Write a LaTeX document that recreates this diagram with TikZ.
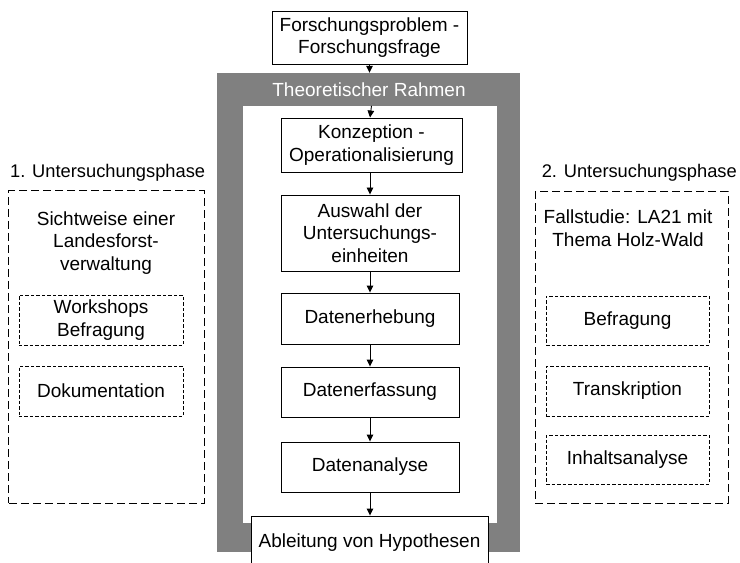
\documentclass[tikz,border=0pt]{standalone}
\usepackage{fontspec}
\setmainfont{Liberation Sans}
\usetikzlibrary{arrows.meta}
\begin{document}
\begin{tikzpicture}[x=1bp,y=-1bp,
  every node/.style={font=\fontsize{19bp}{22.5bp}\selectfont, inner sep=0pt, align=center},
  phasetitle/.style={font=\fontsize{18.3bp}{22bp}\selectfont},
  stepbox/.style={draw=black, line width=0.9bp, fill=white, minimum width=178bp, minimum height=50bp},
  phasebox/.style={draw=black, line width=1bp, dash pattern=on 8bp off 4bp},
  methodbox/.style={draw=black, line width=0.8bp, dash pattern=on 3.5bp off 2bp, minimum width=164bp, minimum height=50bp},
  flow/.style={draw=black, line width=0.9bp, -{Triangle[length=7bp,width=6.5bp]}},
]
\useasboundingbox (0,0) rectangle (740,563);
\clip (0,0) rectangle (740,563);

% theoretical frame: grey band around a white field
\node[fill=black!50, minimum width=303bp, minimum height=479bp] (frame) at (368.5,312.5) {};
\node[fill=white, minimum width=254bp, minimum height=417bp] (inner) at (370,314.5) {};
\node[text=white] (frametitle) at (369,90) {Theoretischer Rahmen};

% research question
\node[stepbox, minimum width=195bp, minimum height=53bp] (frage) at (369.5,37.5) {Forschungsproblem -\\Forschungsfrage};

% main sequence of steps
\node[stepbox, minimum width=181bp, minimum height=54bp] (konz) at (371.5,145) {Konzeption -\\Operationalisierung};
\node[stepbox, minimum height=76bp] (auswahl) at (370,233) {Auswahl der\\Untersuchungs-\\einheiten};
\node[stepbox, minimum height=51bp] (erhebung) at (370,318.5) {Datenerhebung};
\node[stepbox] (erfassung) at (370,392) {Datenerfassung};
\node[stepbox] (analyse) at (370,467) {Datenanalyse};
\node[stepbox, minimum width=237bp, minimum height=54bp] (hypo) at (369.5,543) {Ableitung von Hypothesen};

\draw[flow] (frage.south) -- (frage.south |- frame.north);
\draw[flow] (inner.north -| konz.north) -- (konz.north -| inner.north);
\draw[flow] (konz.south -| auswahl.north) -- (auswahl.north);
\draw[flow] (auswahl) -- (erhebung);
\draw[flow] (erhebung) -- (erfassung);
\draw[flow] (erfassung) -- (analyse);
\draw[flow] (analyse.south) -- (analyse.south |- hypo.north);

% first investigation phase
\node[phasetitle, anchor=west] (phase1title) at (10,173) {1. Untersuchungsphase};
\node[phasebox, minimum width=195bp, minimum height=312bp] (phase1) at (106.5,347) {};
\node (phase1text) at (106,243) {Sichtweise einer\\Landesforst-\\verwaltung};
\node[methodbox] (workshops) at (101,320) {Workshops\\Befragung};
\node[methodbox] (doku) at (101,391) {Dokumentation};

% second investigation phase
\node[phasetitle, anchor=east] (phase2title) at (737,173) {2. Untersuchungsphase};
\node[phasebox, minimum width=193bp, minimum height=311bp] (phase2) at (631.5,347.5) {};
\node (phase2text) at (628,228) {Fallstudie: LA21 mit\\Thema Holz-Wald};
\node[methodbox, minimum width=163bp, minimum height=49bp] (befragung) at (627.5,320.5) {Befragung};
\node[methodbox, minimum width=163bp] (transkription) at (627.5,391) {Transkription};
\node[methodbox, minimum width=163bp, minimum height=49bp] (inhalt) at (627.5,459.5) {Inhaltsanalyse};
\end{tikzpicture}
\end{document}
